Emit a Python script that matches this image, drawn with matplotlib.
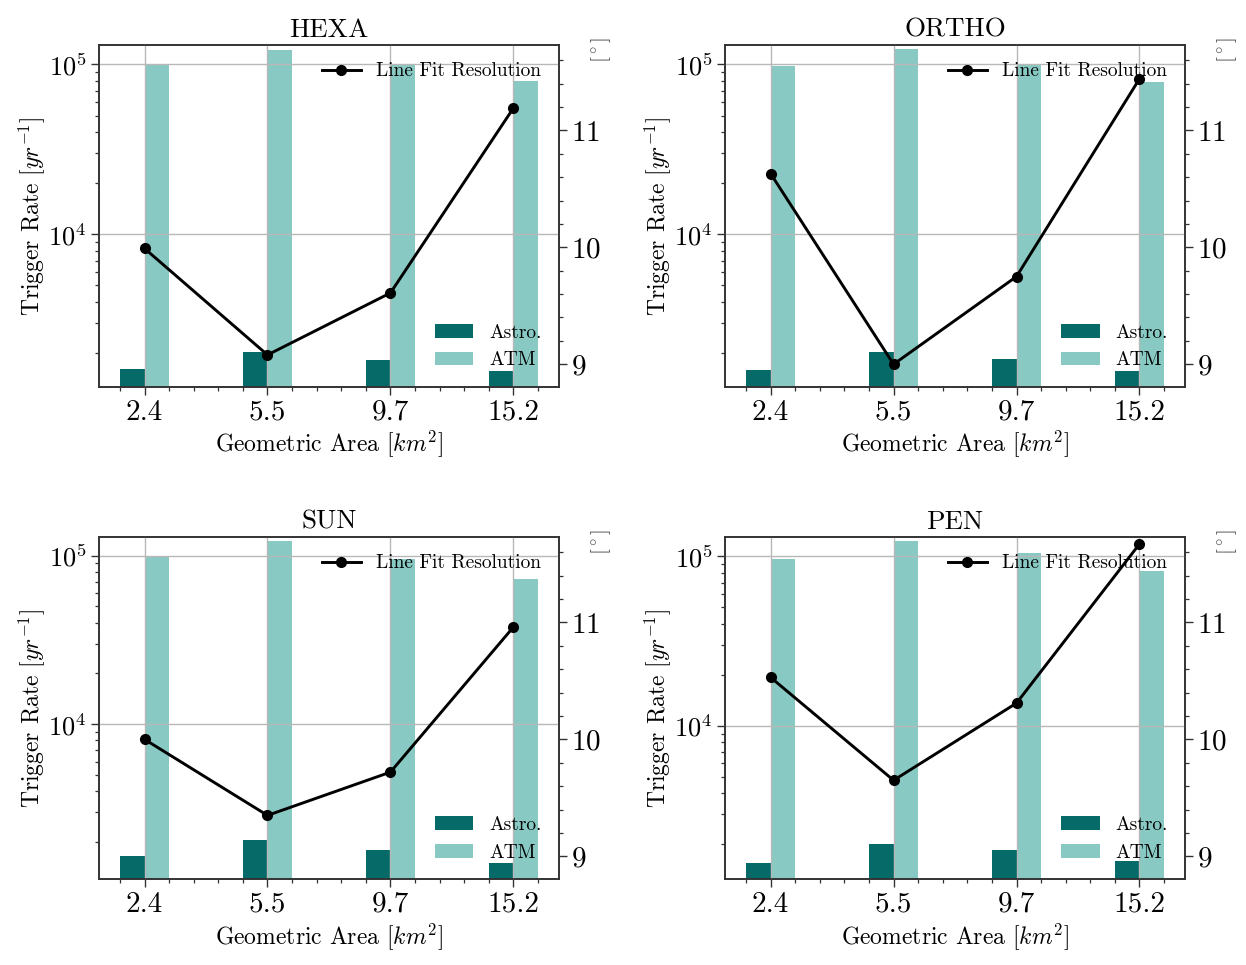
import numpy as np
import matplotlib
matplotlib.use('Agg')
import matplotlib.pyplot as plt
from matplotlib.ticker import AutoMinorLocator, MultipleLocator

plt.rcParams.update({
    'font.family': 'serif',
    'font.serif': ['cmr10'],
    'mathtext.fontset': 'cm',
    'axes.formatter.use_mathtext': True,
    'axes.unicode_minus': False,
})

# ---- data ----
areas = ['2.4', '5.5', '9.7', '15.2']
configs = ['HEXA', 'ORTHO', 'SUN', 'PEN']

astro_hexa = [1607, 2032, 1834, 1571]
atm_hexa = [99600, 120900, 100900, 79800]
res_hexa = [9.99, 9.08, 9.61, 11.19]

astro_ortho = [1585, 2032, 1840, 1571]
atm_ortho = [97800, 122500, 101000, 79100]
res_ortho = [10.63, 9.00, 9.75, 11.44]

astro_sun = [1660, 2047, 1783, 1500]
atm_sun = [100000, 121700, 96000, 73000]
res_sun = [10.00, 9.35, 9.72, 10.96]

astro_pen = [1545, 2000, 1853, 1596]
atm_pen = [96400, 122600, 105100, 81900]
res_pen = [10.53, 9.65, 10.31, 11.67]

astro_all = [astro_hexa, astro_ortho, astro_sun, astro_pen]
atm_all = [atm_hexa, atm_ortho, atm_sun, atm_pen]
res_all = [res_hexa, res_ortho, res_sun, res_pen]
rate_lims = [(1265, 1.30e5), (1265, 1.30e5), (1205, 1.29e5), (1248, 1.30e5)]
res_lim = (8.806, 11.73)

c_astro = '#066a69'
c_atm = '#88cac3'

fig, axes = plt.subplots(2, 2, figsize=(12.46, 9.65), dpi=100)
fig.subplots_adjust(left=0.0795, right=0.951, top=0.9534, bottom=0.0891,
                    wspace=0.3616, hspace=0.4388)

x = np.arange(len(areas))
w = 0.2
for ax, name, astro, atm, res, lim in zip(axes.flat, configs, astro_all, atm_all,
                                          res_all, rate_lims):
    ax.bar(x - w / 2, astro, width=w, color=c_astro, label='Astro.', zorder=1)
    ax.bar(x + w / 2, atm, width=w, color=c_atm, label='ATM', zorder=1)
    ax.set_yscale('log')
    ax.set_ylim(*lim)
    ax.set_xticks(x)
    ax.set_xticklabels(areas)
    ax.xaxis.set_minor_locator(AutoMinorLocator(5))
    ax.grid(True, which='major', color='#b8b8b8', linewidth=1.0, zorder=3)
    ax.set_axisbelow(False)
    ax.tick_params(axis='both', which='major', length=5.5, width=1.0,
                   direction='out', color='#333333')
    ax.tick_params(axis='x', which='major', labelsize=21)
    ax.tick_params(axis='y', which='major', labelsize=19)
    ax.tick_params(axis='both', which='minor', length=3, width=0.9,
                   direction='out', color='#333333')
    ax.set_xlabel(r'Geometric Area [$km^2$]', fontsize=17, labelpad=2)
    ax.set_ylabel(r'Trigger Rate [$yr^{-1}$]', fontsize=17, labelpad=1)
    ax.set_title(name, fontsize=19.5)
    for s in ax.spines.values():
        s.set_color('#333333')
        s.set_linewidth(1.2)
    ax.legend(loc='lower right', frameon=False, fontsize=14)

    ax2 = ax.twinx()
    ax2.plot(x, res, color='black', marker='o', markersize=7, linewidth=2.1,
             label='Line Fit Resolution')
    ax2.set_ylim(*res_lim)
    ax2.yaxis.set_major_locator(MultipleLocator(1))
    ax2.yaxis.set_minor_locator(AutoMinorLocator(5))
    ax2.tick_params(axis='y', which='major', labelsize=21, length=5.5, width=1.0,
                    direction='out', color='#333333')
    ax2.tick_params(axis='y', which='minor', length=3, width=0.9,
                    direction='out', color='#333333')
    ax2.set_ylabel(r'[$^\circ$]', fontsize=15, loc='top', color='#444444')
    ax2.yaxis.set_label_coords(1.065, 1.023)
    for s in ax2.spines.values():
        s.set_color('#333333')
        s.set_linewidth(1.2)
    ax2.legend(loc='upper right', frameon=False, fontsize=14)

fig.savefig('out.png', dpi=100)
